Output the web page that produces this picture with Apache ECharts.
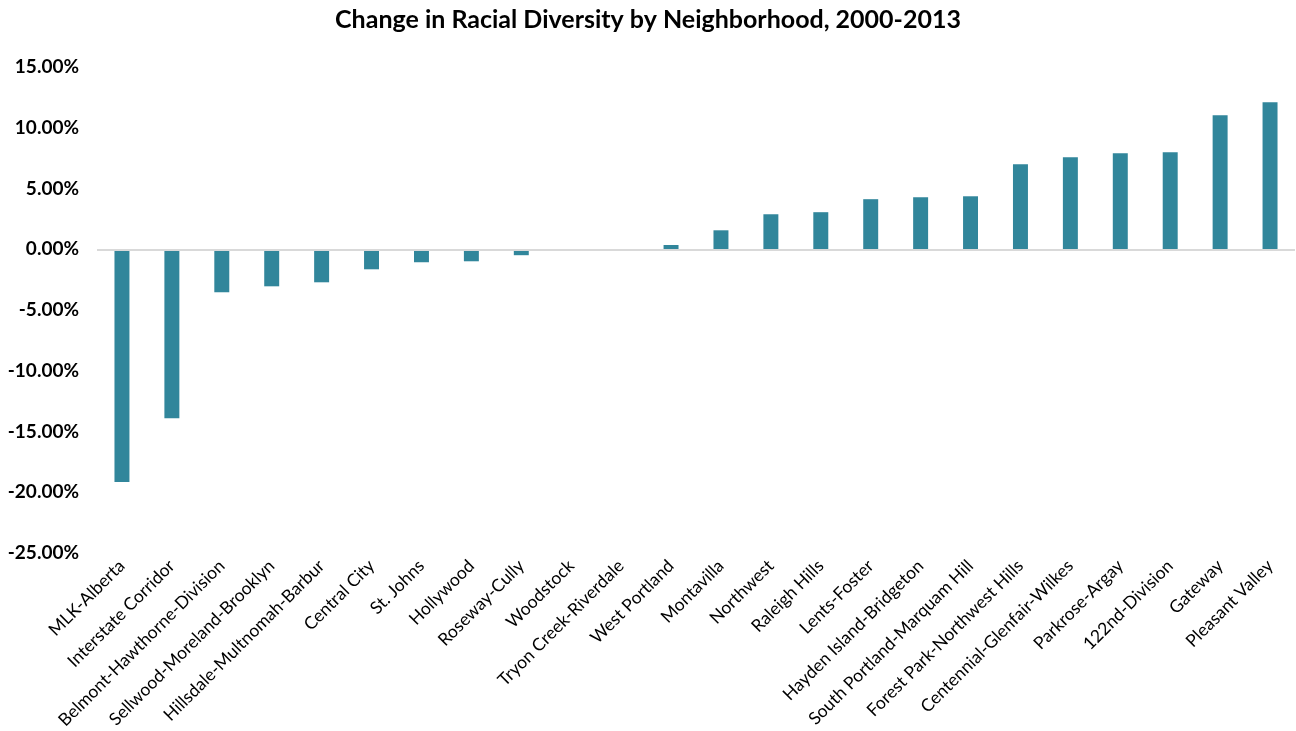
<!DOCTYPE html>
<html><head><meta charset="utf-8">
<script src="https://cdn.jsdelivr.net/npm/echarts@6/dist/echarts.min.js"></script>
<style>html,body{margin:0;padding:0;background:#fff}#c{width:1296px;height:731px}</style>
</head><body><div id="c"></div>
<script>
const categories = ["MLK-Alberta","Interstate Corridor","Belmont-Hawthorne-Division","Sellwood-Moreland-Brooklyn","Hillsdale-Multnomah-Barbur","Central City","St. Johns","Hollywood","Roseway-Cully","Woodstock","Tryon Creek-Riverdale","West Portland","Montavilla","Northwest","Raleigh Hills","Lents-Foster","Hayden Island-Bridgeton","South Portland-Marquam Hill","Forest Park-Northwest Hills","Centennial-Glenfair-Wilkes","Parkrose-Argay","122nd-Division","Gateway","Pleasant Valley"];
const changePct = [-19.15,-13.9,-3.54,-3.05,-2.72,-1.65,-1.07,-0.99,-0.49,-0.1,0,0.35,1.56,2.88,3.05,4.12,4.28,4.36,7.0,7.57,7.9,7.98,11.03,12.1];
const yTicks = {min:-25, max:15, interval:5};

const chart = echarts.init(document.getElementById('c'));
chart.setOption({
  animation:false,
  title:{text:'Change in Racial Diversity by Neighborhood, 2000-2013', left:'center', top:2,
    textStyle:{fontFamily:'Lato', fontWeight:'bold', fontSize:25, color:'#000'}},
  grid:{left:97, right:1, top:67, bottom:178, containLabel:false, outerBoundsMode:'none'},
  xAxis:{type:'category', data:categories,
    axisLine:{show:false, onZero:false}, axisTick:{show:false},
    axisLabel:{rotate:45, interval:0, margin:10, fontFamily:'Lato', fontSize:17.5, color:'#000'}},
  yAxis:{type:'value', min:yTicks.min, max:yTicks.max, interval:yTicks.interval,
    splitLine:{show:false}, axisLine:{show:false}, axisTick:{show:false},
    axisLabel:{margin:18, fontFamily:'Lato', fontWeight:'bold', fontSize:19, color:'#000',
      formatter:v=>v.toFixed(2)+'%'}},
  series:[{type:'bar', data:changePct, barWidth:'30%', itemStyle:{color:'#31869B'},
    markLine:{silent:true, symbol:'none', label:{show:false},
      lineStyle:{color:'#D9D9D9', width:2, type:'solid'}, data:[{yAxis:0}]}}]
});
</script></body></html>
